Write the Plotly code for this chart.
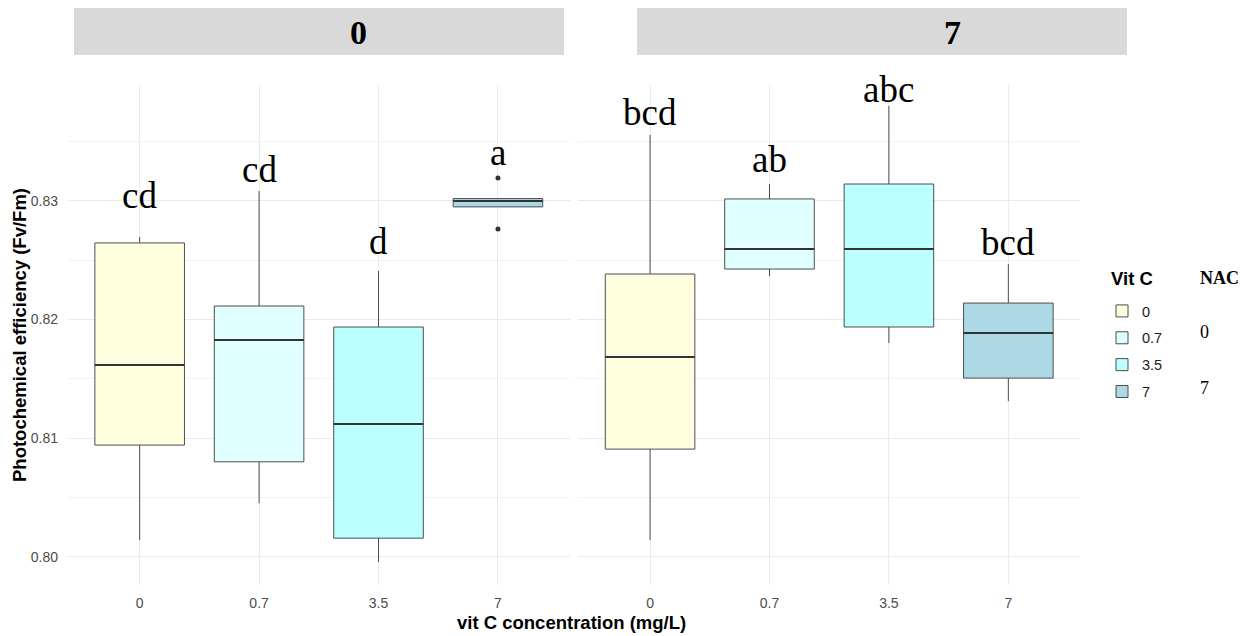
import plotly.graph_objects as go

# ---------------- data ----------------
vitc_levels = ["0", "0.7", "3.5", "7"]
nac_levels = ["0", "7"]
fills = ["#FFFFE0", "#E0FFFF", "#BBFFFF", "#ADD8E6"]

# NAC = 0 panel
nac0_lower = [0.80139, 0.80451, 0.79954, 0.82950]
nac0_q1 = [0.80941, 0.80800, 0.80156, 0.82950]
nac0_median = [0.81616, 0.81827, 0.81118, 0.83000]
nac0_q3 = [0.82646, 0.82114, 0.81937, 0.83020]
nac0_upper = [0.82696, 0.83084, 0.82410, 0.83020]
nac0_letters = ["cd", "cd", "d", "a"]
nac0_letter_y = [0.82941, 0.83160, 0.82553, 0.83304]
nac0_outlier_x = ["7", "7"]
nac0_outlier_y = [0.83194, 0.82764]

# NAC = 7 panel
nac7_lower = [0.80139, 0.82367, 0.81802, 0.81312]
nac7_q1 = [0.80907, 0.82426, 0.81937, 0.81506]
nac7_median = [0.81684, 0.82595, 0.82595, 0.81886]
nac7_q3 = [0.82384, 0.83017, 0.83143, 0.82139]
nac7_upper = [0.83557, 0.83143, 0.83802, 0.82468]
nac7_letters = ["bcd", "ab", "abc", "bcd"]
nac7_letter_y = [0.83641, 0.83245, 0.83835, 0.82545]

y_ticks = [0.80, 0.81, 0.82, 0.83]

# ---------------- geometry (page offset of 8px compensated) ----------------
OFF = 8
W, H = 1255 - OFF, 636 - OFF
PL, PR, PT, PB = 68, 1080, 85, 585          # plot box in screen pixels
ML, MR, MT, MB = PL - OFF, W - (PR - OFF), PT - OFF, H - (PB - OFF)
PW = W - ML - MR
PH = H - MT - MB


def px_x(p):
    return (p - OFF - ML) / PW


def px_y(p):
    return (H - MB - (p - OFF)) / PH


fig = go.Figure()
BOXW = 0.75
outline = "#4D4D4D"

panels = [
    ("x", "y", nac0_lower, nac0_q1, nac0_median, nac0_q3, nac0_upper, nac0_letters, nac0_letter_y),
    ("x2", "y2", nac7_lower, nac7_q1, nac7_median, nac7_q3, nac7_upper, nac7_letters, nac7_letter_y),
]

for pi, (xa, ya, lo, q1, med, q3, up, letters, ly) in enumerate(panels):
    for i, lev in enumerate(vitc_levels):
        fig.add_trace(go.Box(
            x=[i], q1=[q1[i]], median=[med[i]], q3=[q3[i]],
            lowerfence=[lo[i]], upperfence=[up[i]],
            width=BOXW, whiskerwidth=0, boxpoints=False,
            fillcolor=fills[i], line=dict(color=outline, width=1),
            name=lev, legendgroup=lev, showlegend=(pi == 0),
            xaxis=xa, yaxis=ya, hoverinfo="skip",
        ))
    # thicker median lines
    mx, my = [], []
    for i in range(len(vitc_levels)):
        mx += [i - BOXW / 2, i + BOXW / 2, None]
        my += [med[i], med[i], None]
    fig.add_trace(go.Scatter(x=mx, y=my, mode="lines", line=dict(color="#333333", width=2),
                             showlegend=False, xaxis=xa, yaxis=ya, hoverinfo="skip"))
    # significance letters
    for i, t in enumerate(letters):
        fig.add_annotation(x=i, y=ly[i], xref=xa, yref=ya, text=t, showarrow=False,
                           yanchor="bottom", yshift=-10,
                           font=dict(family="Liberation Serif", size=37, color="black"))

# outliers
fig.add_trace(go.Scatter(x=[vitc_levels.index(v) for v in nac0_outlier_x], y=nac0_outlier_y,
                         mode="markers", marker=dict(color="#333333", size=5),
                         showlegend=False, xaxis="x", yaxis="y", hoverinfo="skip"))

d1 = [0, px_x(569.6)]
d2 = [px_x(578.4), 1]
axis_common = dict(
    range=[-0.6, 3.6], tickmode="array", tickvals=list(range(len(vitc_levels))),
    ticktext=vitc_levels, showgrid=True, gridcolor="#EBEBEB", gridwidth=1.1,
    zeroline=False, showline=False, ticks="", ticklabelstandoff=8,
    tickfont=dict(family="Liberation Sans", size=14, color="#4D4D4D"),
)
yrange = [0.79761, 0.83978]
yaxis_common = dict(
    range=yrange, tickmode="array", tickvals=y_ticks,
    ticktext=[f"{v:.2f}" for v in y_ticks], showgrid=True, gridcolor="#EBEBEB", gridwidth=1.1,
    zeroline=False, showline=False, ticks="", ticklabelstandoff=9,
    minor=dict(showgrid=True, gridcolor="#F3F3F3", gridwidth=0.6, tick0=0.795, dtick=0.01),
    tickfont=dict(family="Liberation Sans", size=14, color="#4D4D4D"),
)

fig.update_layout(
    width=W, height=H,
    margin=dict(l=ML, r=MR, t=MT, b=MB),
    plot_bgcolor="white", paper_bgcolor="white",
    xaxis=dict(domain=d1, anchor="y", **axis_common),
    xaxis2=dict(domain=d2, anchor="y2", **axis_common),
    yaxis=dict(anchor="x", **yaxis_common),
    yaxis2=dict(anchor="x2", matches="y", showticklabels=False,
                **{k: v for k, v in yaxis_common.items() if k != "tickfont"}),
    legend=dict(x=px_x(1102), y=px_y(295), xanchor="left", yanchor="top",
                font=dict(family="Liberation Sans", size=14.5, color="#1a1a1a"),
                bgcolor="rgba(0,0,0,0)", tracegroupgap=5),
    showlegend=True,
)

# facet strips
strips = [(74, 564, 358, nac_levels[0]), (637, 1127, 952, nac_levels[1])]
for x0, x1, xc, lab in strips:
    fig.add_shape(type="rect", xref="paper", yref="paper",
                  x0=px_x(x0), x1=px_x(x1), y0=px_y(55), y1=px_y(7),
                  fillcolor="#D9D9D9", line=dict(width=0), layer="below")
    fig.add_annotation(xref="paper", yref="paper", x=px_x(xc), y=px_y(33),
                       text=f"<b>{lab}</b>", showarrow=False, xanchor="center", yanchor="middle",
                       font=dict(family="Liberation Serif", size=34, color="black"))

# legend title and NAC column
fig.add_annotation(xref="paper", yref="paper", x=px_x(1109), y=px_y(278), text="<b>Vit C</b>",
                   showarrow=False, xanchor="left", yanchor="middle",
                   font=dict(family="Liberation Sans", size=18.5, color="black"))
fig.add_annotation(xref="paper", yref="paper", x=px_x(1219.5), y=px_y(278), text="<b>NAC</b>",
                   showarrow=False, xanchor="center", yanchor="middle",
                   font=dict(family="Liberation Serif", size=18, color="black"))
fig.add_annotation(xref="paper", yref="paper", x=px_x(1204), y=px_y(332), text=nac_levels[0],
                   showarrow=False, xanchor="center", yanchor="middle",
                   font=dict(family="Liberation Serif", size=18, color="black"))
fig.add_annotation(xref="paper", yref="paper", x=px_x(1204), y=px_y(388), text=nac_levels[1],
                   showarrow=False, xanchor="center", yanchor="middle",
                   font=dict(family="Liberation Serif", size=18, color="black"))

# axis titles
fig.add_annotation(xref="paper", yref="paper", x=px_x(571), y=px_y(622),
                   text="<b>vit C concentration (mg/L)</b>", showarrow=False,
                   xanchor="center", yanchor="middle",
                   font=dict(family="Liberation Sans", size=18.5, color="black"))
fig.add_annotation(xref="paper", yref="paper", x=px_x(19), y=px_y(335),
                   text="<b>Photochemical efficiency (Fv/Fm)</b>", showarrow=False, textangle=-90,
                   xanchor="center", yanchor="middle",
                   font=dict(family="Liberation Sans", size=18.5, color="black"))

fig.write_html("out.html")
